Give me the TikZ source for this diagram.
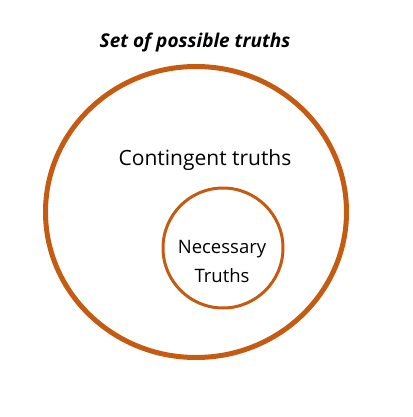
\documentclass[tikz,border=0pt]{standalone}
\usepackage{fontspec}
\setmainfont{Open Sans}
\definecolor{rust}{HTML}{C55A11}
\begin{document}
\begin{tikzpicture}[x=1pt,y=-1pt,
  ring/.style={draw=rust},
  lbl/.style={font=\fontsize{18.5}{22}\selectfont, text=black, inner sep=0pt}]
\useasboundingbox (0,0) rectangle (412,417);
\fill[white] (0,0) rectangle (412,417);
\draw[ring, line width=5pt] (196,212) ellipse [x radius=150.5, y radius=145.5];
\draw[ring, line width=3pt] (223,248) ellipse [x radius=60, y radius=60];
\node[lbl, font=\fontsize{19}{23}\selectfont\bfseries\itshape] (title) at (195,43) {Set of possible truths};
\node[lbl, font=\fontsize{21}{25}\selectfont] (cont) at (205,160) {Contingent truths};
\node[lbl, align=center, font=\fontsize{18.5}{29}\selectfont] (nec) at (222,261) {Necessary\\Truths};
\end{tikzpicture}
\end{document}
